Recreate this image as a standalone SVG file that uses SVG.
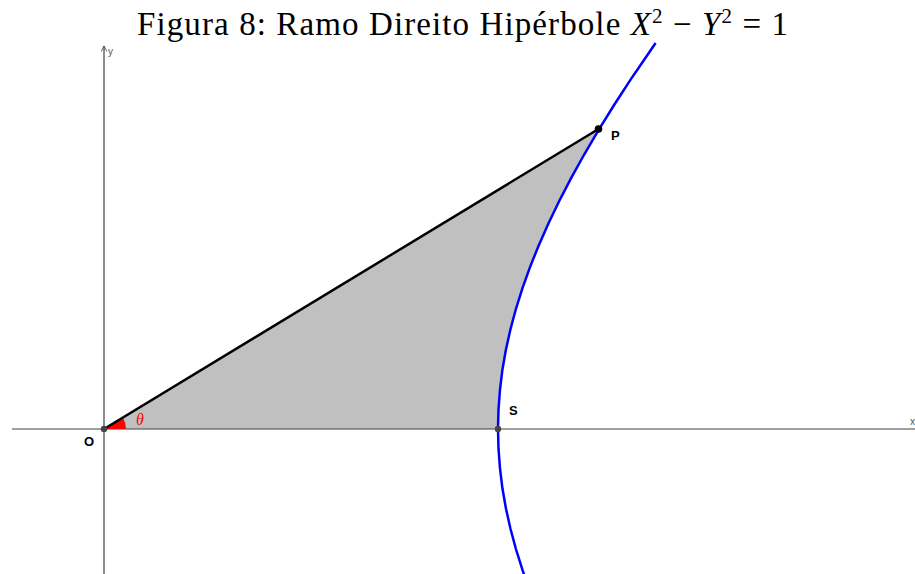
<svg xmlns="http://www.w3.org/2000/svg" width="915" height="574" viewBox="0 0 915 574">
<style>
.axis{stroke:#404040;stroke-width:1.2;fill:none}
.lbl{font-family:"Liberation Sans",Arial,sans-serif;font-weight:bold;font-size:13px;fill:#000}
.title{font-family:"Liberation Serif","Times New Roman",serif;font-size:33px;fill:#000}
</style>
<defs>
<marker id="ah" viewBox="0 0 10 10" refX="9" refY="5" markerWidth="7" markerHeight="7" orient="auto" markerUnits="userSpaceOnUse">
<path d="M1,1 L9,5 L1,9" fill="none" stroke="#404040" stroke-width="1.2"/>
</marker>
</defs>
<rect width="915" height="574" fill="#fff"/>
<g id="region">
<path d="M104,429 L598.5,129 L584.2,154.5 L571.1,178.1 L559.1,201.2 L548.3,223.7 L538.6,245.7 L530,267.1 L522.4,288.3 L515.9,309 L510.4,329.5 L505.9,349.7 L502.4,369.7 L500,389.5 L498.5,409.3 L498,429 Z" fill="#c0c0c0"/>
</g>
<g id="axes">
<line class="axis" x1="12" y1="429" x2="915" y2="429"/>
<line class="axis" x1="104" y1="574" x2="104" y2="46" marker-end="url(#ah)"/>
<text x="108" y="55" font-family="Liberation Sans,Arial,sans-serif" font-size="10" fill="#555">y</text>
<text x="910" y="425" font-family="Liberation Sans,Arial,sans-serif" font-size="10" fill="#555">x</text>
</g>
<g id="angle">
<path d="M104,429 L126,429 A22,22 0 0 0 122.8,417.6 Z" fill="#ff0000"/>
<text x="136" y="425" font-family="Liberation Serif,serif" font-style="italic" font-size="16" fill="#ff0000">θ</text>
</g>
<g id="connectors">
<line x1="104" y1="429" x2="598.5" y2="129" stroke="#000" stroke-width="2.5"/>
<polyline fill="none" stroke="#0000ff" stroke-width="2.5" points="525.3,578.1 522.4,569.7 515.9,549 510.4,528.5 505.9,508.3 502.4,488.3 500,468.5 498.5,448.7 498,429 498.5,409.3 500,389.5 502.4,369.7 505.9,349.7 510.4,329.5 515.9,309 522.4,288.3 530,267.1 538.6,245.7 548.3,223.7 559.1,201.2 571.1,178.1 584.2,154.5 598.5,130.1 614.1,105 630.9,79.1 643,61.5 655.6,43"/>
</g>
<g id="O">
<circle cx="104" cy="429" r="3.2" fill="#444"/>
<text class="lbl" x="84" y="446">O</text>
</g>
<g id="S">
<circle cx="498" cy="429" r="3.2" fill="#444"/>
<text class="lbl" x="509" y="415">S</text>
</g>
<g id="P">
<circle cx="598.5" cy="129" r="3.8" fill="#000"/>
<text class="lbl" x="611" y="140">P</text>
</g>
<g id="title">
<text class="title" x="137" y="35" textLength="651">Figura 8: Ramo Direito Hipérbole <tspan font-style="italic">X</tspan><tspan font-size="21" dy="-12">2</tspan><tspan dy="12"> − </tspan><tspan font-style="italic">Y</tspan><tspan font-size="21" dy="-12">2</tspan><tspan dy="12"> = 1</tspan></text>
</g>
</svg>
